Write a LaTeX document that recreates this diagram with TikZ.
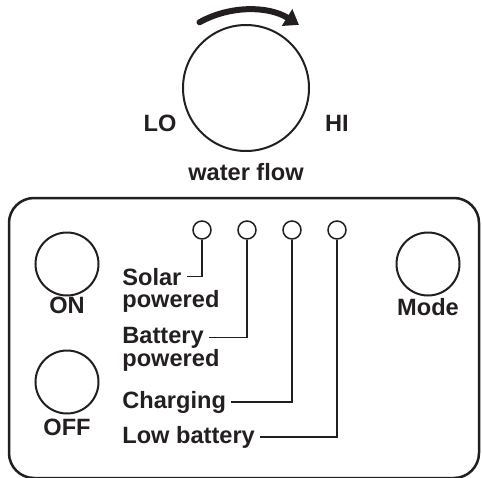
\documentclass[tikz,border=0pt]{standalone}
\usepackage{fontspec}
\setmainfont{Liberation Sans}
\usepackage{tikz}
\usetikzlibrary{arrows.meta, calc, positioning}
\definecolor{ink}{HTML}{231F20}

\begin{document}
\begin{tikzpicture}[x=0.5pt, y=-0.5pt,
        every node/.style={text=ink, font=\fontsize{11.8}{12}\selectfont\bfseries},
        knob/.style={draw=ink, circle, line width=1pt, minimum size=63pt, inner sep=0pt},
        button/.style={draw=ink, circle, line width=1pt, minimum size=31.5pt, inner sep=0pt},
        led/.style={draw=ink, circle, line width=0.75pt, minimum size=9pt, inner sep=0pt},
        lbl/.style={anchor=base west, inner xsep=2.5pt, inner ysep=0pt},
        lead/.style={draw=ink, line width=0.75pt},
        turn/.style={draw=ink, line width=3pt, line cap=round, -{Triangle[length=7pt, width=9.5pt]}}
      ]
      \useasboundingbox (0,0) rectangle (482,477);
      % knob
      \node[knob] (knob) at (246,88) {};
      \coordinate (pivot) at (247,108);
      \draw[turn] ([shift={(119:49pt)}]pivot)
        arc[start angle=119, end angle=58, radius=49pt];
      \node[anchor=base] (lo) at (160,131) {LO};
      \node[anchor=base] (hi) at (337,131) {HI};
      \node[anchor=base] (flow) at (246,180) {water flow};
      % panel
      \draw[ink, line width=1.25pt, rounded corners=12.5pt] (9,198) rectangle (479,478);
      \node[button] (on)   at (67,264)  {};
      \node[button] (off)  at (67,382)  {};
      \node[button] (mode) at (428,264) {};
      \node[anchor=base] (onT)   at (67,313)  {ON};
      \node[anchor=base] (offT)  at (67,435)  {OFF};
      \node[anchor=base] (modeT) at (428,315) {Mode};
      % indicator lamps
      \foreach \i/\x in {1/202, 2/247, 3/292, 4/337}
        \node[led] (led\i) at (\x,230) {};
      \node[lbl] (solarA)   at (117,285) {Solar};
      \node[lbl] (solarB)   at (117,307) {powered};
      \node[lbl] (battA)    at (117,343) {Battery};
      \node[lbl] (battB)    at (117,366) {powered};
      \node[lbl] (charge)   at (117,408) {Charging};
      \node[lbl] (lowbatt)  at (117,443) {Low battery};
      \draw[lead] (solarA.east)  -| (led1.south);
      \draw[lead] (battA.east)   -| (led2.south);
      \draw[lead] (charge.east)  -| (led3.south);
      \draw[lead] (lowbatt.east) -| (led4.south);
    \end{tikzpicture}
\end{document}
